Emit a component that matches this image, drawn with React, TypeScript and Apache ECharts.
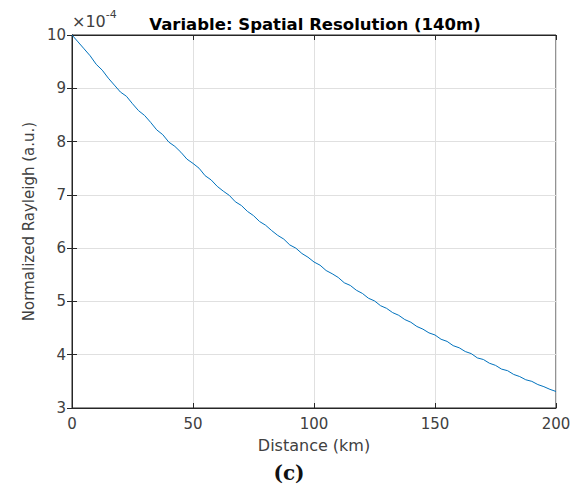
import React, { useEffect, useRef } from "react";
import * as echarts from "echarts";

const distanceKm: number[] = [
  0, 2.5, 5, 7.5, 10, 12.5, 15, 17.5, 20, 22.5, 25, 27.5, 30, 32.5, 35, 37.5, 40, 42.5, 45, 47.5,
  50, 52.5, 55, 57.5, 60, 62.5, 65, 67.5, 70, 72.5, 75, 77.5, 80, 82.5, 85, 87.5, 90, 92.5, 95, 97.5,
  100, 102.5, 105, 107.5, 110, 112.5, 115, 117.5, 120, 122.5, 125, 127.5, 130, 132.5, 135, 137.5, 140, 142.5, 145, 147.5,
  150, 152.5, 155, 157.5, 160, 162.5, 165, 167.5, 170, 172.5, 175, 177.5, 180, 182.5, 185, 187.5, 190, 192.5, 195, 197.5, 200,
];

// Normalized Rayleigh, in units of 1e-4
const rayleighE4: number[] = [
  10.0, 9.87, 9.74, 9.61, 9.45, 9.34, 9.19, 9.06, 8.93, 8.85, 8.71, 8.58, 8.49, 8.36, 8.22, 8.13, 7.99, 7.91, 7.8, 7.67,
  7.59, 7.5, 7.36, 7.28, 7.16, 7.07, 6.99, 6.87, 6.8, 6.69, 6.61, 6.5, 6.43, 6.33, 6.24, 6.17, 6.06, 6.0, 5.9, 5.83,
  5.74, 5.68, 5.58, 5.52, 5.45, 5.35, 5.3, 5.21, 5.15, 5.06, 5.01, 4.92, 4.87, 4.79, 4.74, 4.66, 4.61, 4.53, 4.48, 4.41,
  4.37, 4.29, 4.25, 4.17, 4.13, 4.06, 4.02, 3.94, 3.91, 3.84, 3.8, 3.73, 3.7, 3.63, 3.59, 3.53, 3.5, 3.44, 3.4, 3.35, 3.31,
];

const titleText = "Variable: Spatial Resolution (140m)";
const xName = "Distance (km)";
const yName = "Normalized Rayleigh (a.u.)";
const caption = "(c)";

const FONT = "DejaVu Sans";
const AXIS_COLOR = "#262626";
const LABEL_COLOR = "#404040";

export default function App() {
  const ref = useRef<HTMLDivElement>(null);

  useEffect(() => {
    if (!ref.current) return;
    const chart = echarts.init(ref.current, undefined, { renderer: "svg" });
    const data = distanceKm.map((x, i) => [x, rayleighE4[i]]);

    const tickStyle = { show: true, inside: true, length: 5, lineStyle: { color: AXIS_COLOR, width: 1 } };

    chart.setOption({
      animation: false,
      backgroundColor: "#ffffff",
      grid: {
        left: 72,
        right: 23,
        top: 35,
        bottom: 80,
        show: true,
        borderColor: AXIS_COLOR,
        borderWidth: 1,
        backgroundColor: "transparent",
      },
      title: {
        text: titleText,
        left: 310,
        top: 11,
        textAlign: "center",
        textStyle: { fontFamily: FONT, fontSize: 16.5, fontWeight: "bold", color: "#000000" },
      },
      xAxis: [
        {
          type: "value",
          min: 0,
          max: 200,
          interval: 50,
          position: "bottom",
          name: xName,
          nameLocation: "middle",
          nameGap: 29,
          nameTextStyle: { fontFamily: FONT, fontSize: 16, color: LABEL_COLOR },
          axisLine: { show: true, lineStyle: { color: AXIS_COLOR, width: 1 } },
          axisTick: tickStyle,
          axisLabel: { fontFamily: FONT, fontSize: 15, color: LABEL_COLOR, margin: 8 },
          splitLine: { show: true, lineStyle: { color: "#e0e0e0", width: 1 } },
        },
        {
          type: "value",
          min: 0,
          max: 200,
          interval: 50,
          position: "top",
          axisLine: { show: true, lineStyle: { color: AXIS_COLOR, width: 1 } },
          axisTick: tickStyle,
          axisLabel: { show: false },
          splitLine: { show: false },
        },
      ],
      yAxis: [
        {
          type: "value",
          min: 3,
          max: 10,
          interval: 1,
          position: "left",
          name: yName,
          nameLocation: "middle",
          nameGap: 35,
          nameTextStyle: { fontFamily: FONT, fontSize: 15, color: LABEL_COLOR },
          axisLine: { show: true, lineStyle: { color: AXIS_COLOR, width: 1 } },
          axisTick: tickStyle,
          axisLabel: { fontFamily: FONT, fontSize: 15, color: LABEL_COLOR, margin: 6 },
          splitLine: { show: true, lineStyle: { color: "#e0e0e0", width: 1 } },
        },
        {
          type: "value",
          min: 3,
          max: 10,
          interval: 1,
          position: "right",
          axisLine: { show: true, lineStyle: { color: AXIS_COLOR, width: 1 } },
          axisTick: tickStyle,
          axisLabel: { show: false },
          splitLine: { show: false },
        },
      ],
      series: [
        {
          type: "line",
          xAxisIndex: 0,
          yAxisIndex: 0,
          data,
          showSymbol: false,
          symbol: "none",
          lineStyle: { color: "#0072BD", width: 1 },
        },
      ],
      graphic: [
        {
          type: "text",
          left: 72,
          top: 9,
          style: {
            text: "{a|×10}{b|-4}",
            rich: {
              a: { fontFamily: FONT, fontSize: 16, fill: LABEL_COLOR, padding: [7, 0, 0, 0] },
              b: { fontFamily: FONT, fontSize: 11, fill: LABEL_COLOR, padding: [0, 0, 7, 0] },
            },
          },
        },
        {
          type: "text",
          x: 289,
          y: 473,
          style: {
            text: caption,
            fontFamily: "DejaVu Serif",
            fontSize: 20,
            fontWeight: "bold",
            fill: "#111111",
            align: "center",
            verticalAlign: "middle",
          },
        },
      ],
    });

    return () => chart.dispose();
  }, []);

  return (
    <div
      ref={ref}
      style={{ position: "absolute", left: 0, top: 0, width: 579, height: 488 }}
    />
  );
}
